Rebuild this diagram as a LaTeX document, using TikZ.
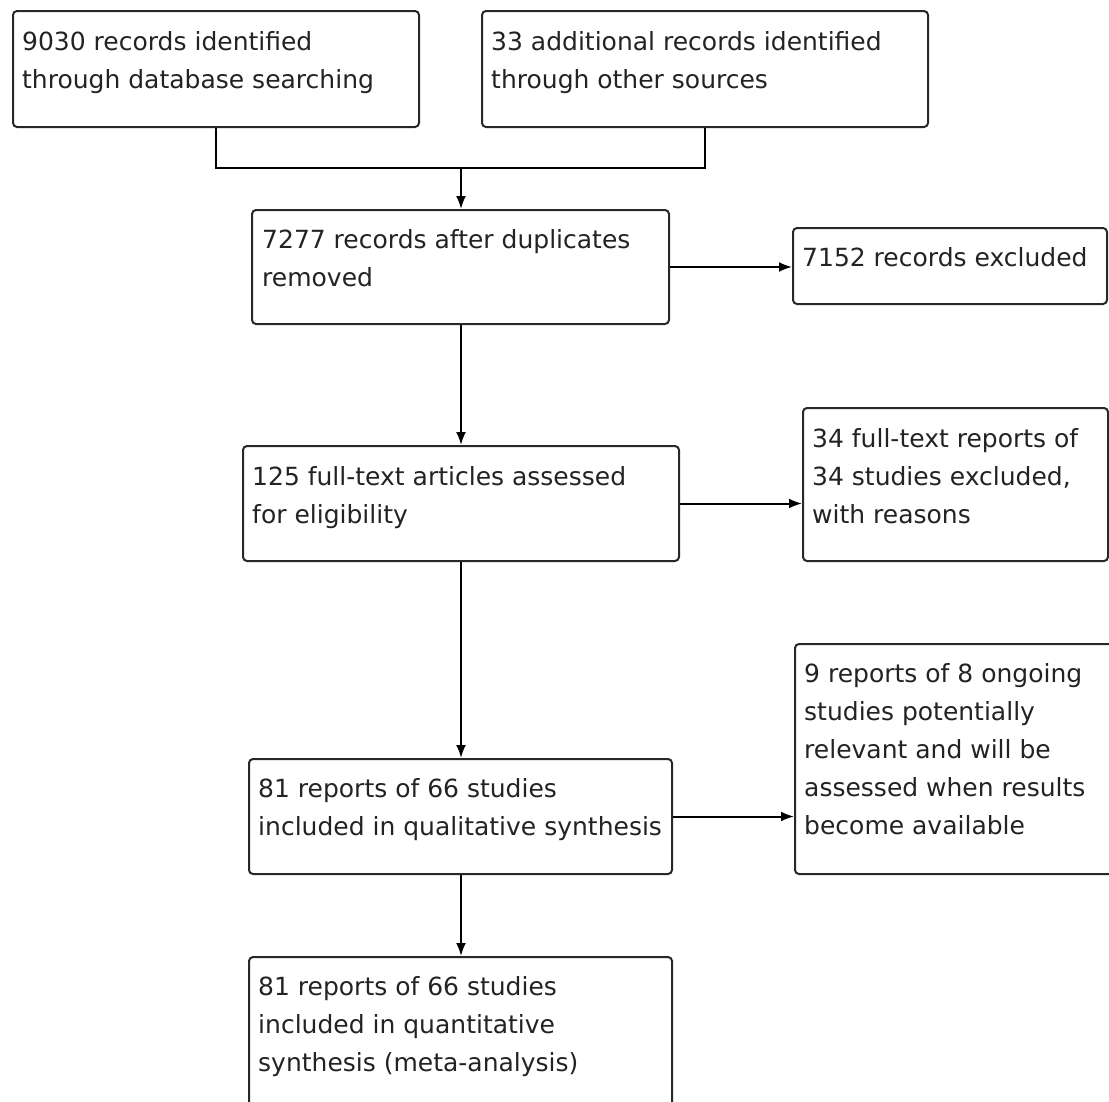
\documentclass[tikz,border=0pt]{standalone}
\usepackage{fontspec}
\setmainfont{DejaVu Sans}
\usetikzlibrary{arrows.meta}
\definecolor{boxline}{RGB}{40,40,40}
\definecolor{txtcol}{RGB}{35,35,35}
\tikzset{
  flowbox/.style={draw=boxline, line width=2pt, rounded corners=4pt, inner sep=0pt, anchor=north west, fill=white},
  flowtxt/.style={anchor=north west, inner sep=0pt, align=left, text=txtcol, font=\fontsize{25}{38}\selectfont},
  link/.style={draw=black, line width=2pt},
  arrowlink/.style={link, -{Latex[length=13pt,width=10pt]}}
}
\newcommand{\firstline}{\rule{0pt}{39pt}}
\begin{document}
\begin{tikzpicture}[x=1pt,y=-1pt]
\useasboundingbox (0,0) rectangle (1109,1101);
\clip (0,0) rectangle (1109,1101);
% boxes
\node[flowbox, minimum width=406pt, minimum height=116pt] (A) at (12,10) {};
\node[flowbox, minimum width=446pt, minimum height=116pt] (B) at (481,10) {};
\node[flowbox, minimum width=417pt, minimum height=114pt] (C) at (251,209) {};
\node[flowbox, minimum width=314pt, minimum height=76pt] (D) at (792,227) {};
\node[flowbox, minimum width=436pt, minimum height=115pt] (E) at (242,445) {};
\node[flowbox, minimum width=305pt, minimum height=153pt] (F) at (802,407) {};
\node[flowbox, minimum width=423pt, minimum height=115pt] (G) at (248,758) {};
\node[flowbox, minimum width=330pt, minimum height=230pt] (H) at (794,643) {};
\node[flowbox, minimum width=423pt, minimum height=170pt] (I) at (248,956) {};
% texts
\node[flowtxt] (At) at (22,11) {\firstline 9030 records identified\\through database searching};
\node[flowtxt] (Bt) at (491,11) {\firstline 33 additional records identified\\through other sources};
\node[flowtxt] (Ct) at (262,209) {\firstline 7277 records after duplicates\\removed};
\node[flowtxt] (Dt) at (802,227) {\firstline 7152 records excluded};
\node[flowtxt] (Et) at (252,446) {\firstline 125 full-text articles assessed\\for eligibility};
\node[flowtxt] (Ft) at (812,408) {\firstline 34 full-text reports of\\34 studies excluded,\\with reasons};
\node[flowtxt] (Gt) at (258,758) {\firstline 81 reports of 66 studies\\included in qualitative synthesis};
\node[flowtxt] (Ht) at (804,643) {\firstline 9 reports of 8 ongoing\\studies potentially\\relevant and will be\\assessed when results\\become available};
\node[flowtxt] (It) at (258,956) {\firstline 81 reports of 66 studies\\included in quantitative\\synthesis (meta-analysis)};
% connectors
\coordinate (j) at (461,168);
\draw[link] (A.south) |- (j) -| (B.south);
\draw[arrowlink] (j) -- (j |- C.north);
\draw[arrowlink] (C.east) -- (C.east -| D.west);
\draw[arrowlink] (j |- C.south) -- (j |- E.north);
\draw[arrowlink] (E.east) -- (E.east -| F.west);
\draw[arrowlink] (j |- E.south) -- (j |- G.north);
\draw[arrowlink] (G.east) -- (G.east -| H.west);
\draw[arrowlink] (j |- G.south) -- (j |- I.north);
\end{tikzpicture}
\end{document}
